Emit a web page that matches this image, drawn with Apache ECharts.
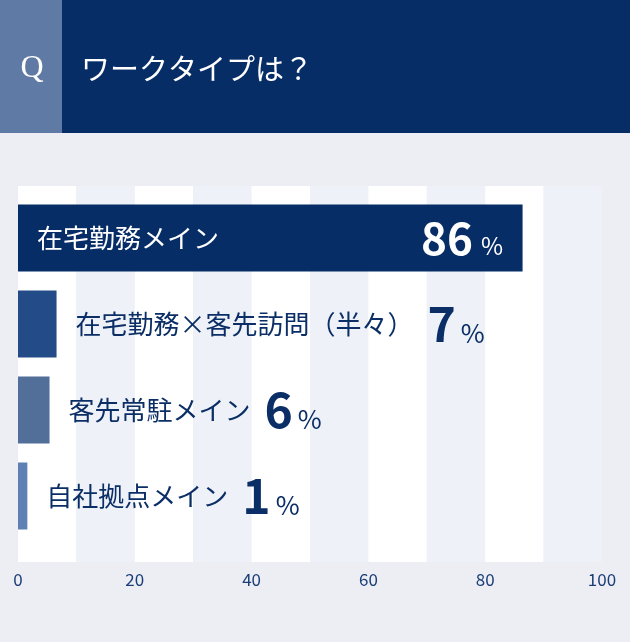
<!DOCTYPE html>
<html><head><meta charset="utf-8">
<script src="https://cdn.jsdelivr.net/npm/echarts@6/dist/echarts.min.js"></script>
<style>html,body{margin:0;padding:0;background:#eceef4}#c{width:630px;height:642px}</style>
</head><body><div id="c"></div>
<script>
const categories = ['在宅勤務メイン','在宅勤務×客先訪問（半々）','客先常駐メイン','自社拠点メイン'];
const values = [86, 7, 6, 1];              // printed percentages
const barLengths = [86.4, 6.6, 5.4, 1.6];  // bar lengths as drawn in the picture
const barColors = ['#072d67','#234b88','#526f9a','#5f80b3'];
const xTicks = [0, 20, 40, 60, 80, 100];
const titleQ = 'Q';
const titleText = 'ワークタイプは？';

const FONT = '"Noto Sans CJK JP", "Noto Sans", sans-serif';
const chart = echarts.init(document.getElementById('c'), null, {renderer:'canvas'});

const data = barLengths.map((len, i) => {
  const first = i === 0;
  const v = values[i];
  return {
    value: len,
    itemStyle: {color: barColors[i]},
    label: first ? {
      show: true, position: 'insideLeft', distance: 19,
      formatter: '{name|' + categories[i] + '}{num|' + v + '}{pct|%}',
      rich: {
        name: {fontSize: 26, color: '#ffffff', fontFamily: FONT, width: 384},
        num: {fontSize: 44, fontWeight: 'bold', color: '#ffffff', fontFamily: FONT},
        pct: {fontSize: 24, color: '#ffffff', fontFamily: FONT, padding: [16, 0, 0, 8]}
      }
    } : {
      show: true, position: 'right', distance: 19,
      formatter: '{name|' + categories[i] + '}{num|' + v + '}{pct|%}',
      rich: {
        name: {fontSize: 26, color: '#0b2e66', fontFamily: FONT},
        num: {fontSize: 48, fontWeight: 'bold', color: '#0b2e66', fontFamily: FONT, padding: [0, 0, 0, 14]},
        pct: {fontSize: 26, color: '#0b2e66', fontFamily: FONT, padding: [18, 0, 0, 5]}
      }
    }
  };
});

chart.setOption({
  backgroundColor: '#eceef4',
  animation: false,
  graphic: [
    {type: 'rect', shape: {x: 0, y: 0, width: 630, height: 133}, style: {fill: '#072d67'}, z: -1},
    {type: 'rect', shape: {x: 0, y: 0, width: 62, height: 133}, style: {fill: '#5f7aa5'}, z: -1},
    {type: 'text', x: 32, y: 69, style: {text: titleQ, fill: '#ffffff', font: '32px "Liberation Serif", "DejaVu Serif", serif', align: 'center', verticalAlign: 'middle'}},
    {type: 'text', x: 81, y: 69, style: {text: titleText, fill: '#ffffff', font: '29px "Noto Sans CJK JP", sans-serif', align: 'left', verticalAlign: 'middle'}}
  ],
  grid: [
    {left: 18, right: 28, top: 186, bottom: 80},
    {left: 18, right: 28, top: 195, height: 344}
  ],
  xAxis: [
    {type: 'value', gridIndex: 0, min: 0, max: 100, interval: 10,
      axisLine: {show: false}, axisTick: {show: false}, splitLine: {show: false},
      splitArea: {show: true, areaStyle: {color: ['#ffffff', '#eef1f7']}},
      axisLabel: {margin: 9, color: '#1c3e78', fontSize: 17, fontFamily: FONT,
        formatter: v => xTicks.indexOf(v) >= 0 ? String(v) : ''}},
    {type: 'value', gridIndex: 1, min: 0, max: 100, show: false}
  ],
  yAxis: [
    {type: 'category', gridIndex: 0, data: [''], show: false},
    {type: 'category', gridIndex: 1, data: categories, inverse: true, show: false}
  ],
  series: [{
    type: 'bar', xAxisIndex: 1, yAxisIndex: 1, barWidth: 67,
    data: data
  }]
});
</script></body></html>
